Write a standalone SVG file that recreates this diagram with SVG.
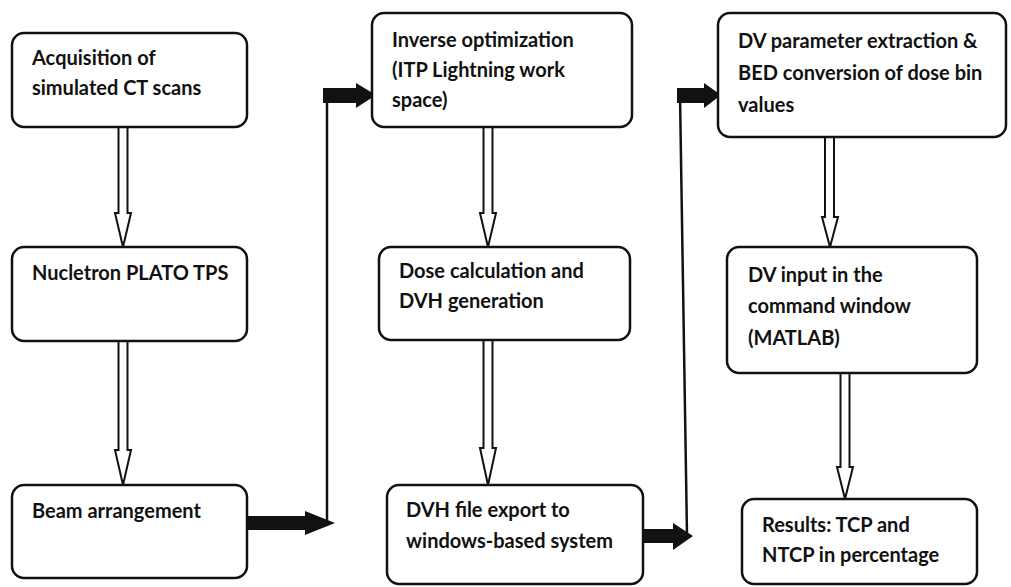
<svg xmlns="http://www.w3.org/2000/svg" width="1011" height="587" viewBox="0 0 1011 587">
<defs>
<style>
.box{fill:#fff;stroke:#111;stroke-width:2.5}
.t{font-family:Lato,"Open Sans","Liberation Sans",sans-serif;font-weight:bold;font-size:20px;fill:#111}
.ha{fill:#fff;stroke:#111;stroke-width:2;stroke-linejoin:miter}
.ba{fill:#111;stroke:none}
.ln{stroke:#111;stroke-width:2.5;fill:none}
</style>
</defs>
<rect width="1011" height="587" fill="#fff"/>
<g id="connectors">
<polygon class="ha" points="118.5,127 127.5,127 127.5,213 131,213 123,247 115,213 118.5,213"/>
<polygon class="ha" points="118.5,341 127.5,341 127.5,450 131,450 123,485 115,450 118.5,450"/>
<polygon class="ha" points="483.5,127 492.5,127 492.5,213 496,213 488,247 480,213 483.5,213"/>
<polygon class="ha" points="483.5,340 492.5,340 492.5,448 496,448 488,485 480,448 483.5,448"/>
<polygon class="ha" points="825,137 834,137 834,217 838,217 830,247 822,217 825,217"/>
<polygon class="ha" points="840.5,373 849.5,373 849.5,467 853,467 845,499 837,467 840.5,467"/>
<line class="ln" x1="327" y1="95" x2="327" y2="523"/>
<polygon class="ba" points="247,516 305,516 305,511 335,523 305,535 305,530 247,530"/>
<polygon class="ba" points="323,88 356,88 356,83 376,95 356,108 356,103 323,103"/>
<line class="ln" x1="680" y1="95" x2="687" y2="536"/>
<polygon class="ba" points="643,529 673,529 673,523 693,536 673,550 673,543 643,543"/>
<polygon class="ba" points="677,88 704,88 704,83 721,95 704,108 704,103 677,103"/>
</g>
<g id="n1"><rect class="box" x="12" y="33" width="235" height="94" rx="12"/>
<text class="t" x="32" y="65">Acquisition of</text><text class="t" x="32" y="95">simulated CT scans</text></g>
<g id="n2"><rect class="box" x="12" y="247" width="235" height="94" rx="12"/>
<text class="t" x="32" y="280">Nucletron PLATO TPS</text></g>
<g id="n3"><rect class="box" x="12" y="485" width="235" height="93" rx="12"/>
<text class="t" x="32" y="518">Beam arrangement</text></g>
<g id="n4"><rect class="box" x="372" y="13" width="260" height="114" rx="12"/>
<text class="t" x="392" y="47">Inverse optimization</text><text class="t" x="392" y="77">(ITP Lightning work</text><text class="t" x="392" y="107">space)</text></g>
<g id="n5"><rect class="box" x="379" y="247" width="251" height="93" rx="12"/>
<text class="t" x="399" y="278">Dose calculation and</text><text class="t" x="399" y="308">DVH generation</text></g>
<g id="n6"><rect class="box" x="387" y="485" width="256" height="99" rx="12"/>
<text class="t" x="406" y="517">DVH file export to</text><text class="t" x="406" y="548">windows-based system</text></g>
<g id="n7"><rect class="box" x="718" y="13" width="288" height="124" rx="12"/>
<text class="t" x="738" y="48">DV parameter extraction &amp;</text><text class="t" x="738" y="80">BED conversion of dose bin</text><text class="t" x="738" y="112">values</text></g>
<g id="n8"><rect class="box" x="727" y="247" width="250" height="126" rx="12"/>
<text class="t" x="748" y="282">DV input in the</text><text class="t" x="748" y="313">command window</text><text class="t" x="748" y="345">(MATLAB)</text></g>
<g id="n9"><rect class="box" x="742" y="499" width="235" height="85" rx="12"/>
<text class="t" x="762" y="532">Results: TCP and</text><text class="t" x="762" y="562">NTCP in percentage</text></g>
</svg>
